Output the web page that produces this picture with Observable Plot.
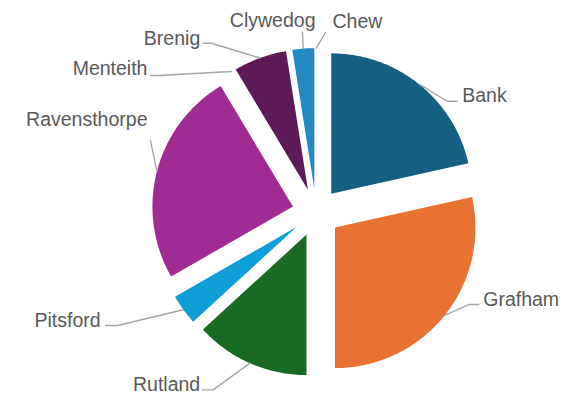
<!DOCTYPE html>
<html>
<head>
<meta charset="utf-8">
<script src="https://cdn.jsdelivr.net/npm/d3@7"></script>
<script src="https://cdn.jsdelivr.net/npm/@observablehq/plot@0.6"></script>
<style>
  html, body { margin: 0; padding: 0; background: #ffffff; }
  #chart svg { display: block; background: #ffffff; }
</style>
</head>
<body>
<div id="chart"></div>
<script>
// ---- data (clockwise from 12 o'clock) ----
const names  = ["Bank", "Grafham", "Rutland", "Pitsford", "Ravensthorpe", "Menteith", "Brenig", "Clywedog", "Chew"];
const shares = [21.5, 28.5, 13.2, 3.5, 24.7, 0, 6.1, 2.5, 0];
const colors = ["#156082", "#e97132", "#196b24", "#0f9ed5", "#a02b93", "#4ea72e", "#5e1a57", "#2389c2", "#7f7f7f"];

// ---- layout (label placement around the pie) ----
const labelAngle  = [51.7, 119.5, 212.75, 241.8, 293.5, 309.6, 326.3, 355.65, 2.96]; // degrees, clockwise from top
const labelRadius = [1.279, 1.329, 1.50, 1.701, 1.286, 1.531, 1.449, 1.2856, 1.2835]; // in pie radii
const labelElbow  = [-10, -10, 11, 12, 0, 8, 8, 0, 0];          // px horizontal leader segment
const labelAnchor = ["start", "start", "end", "end", "end", "end", "end", "end", "start"];
const labelDx     = [5, 4.5, -2, -5, -3, -3, -3, 13, 7];        // px
const labelDy     = [1, 1, 1, 1, -15, 0, 2, -5, -5];            // px (baseline)

const W = 585, H = 394;
const R = 140.5, cx = 315.7, cy = 212.1;   // pie radius and centre (px)
const explode = 0.171;                      // slice offset, in pie radii
const px = v => v / R;                      // px -> pie units

const arcs = d3.pie().sort(null).value(d => d)(shares);
const dir = a => [Math.sin(a), Math.cos(a)];

// slice polygons
const slices = arcs.map((a, i) => {
  const mid = (a.startAngle + a.endAngle) / 2;
  const [ox, oy] = dir(mid).map(v => v * explode);
  const pts = [{x: ox, y: oy}];
  const n = Math.max(2, Math.ceil((a.endAngle - a.startAngle) / (Math.PI / 180)));
  for (let k = 0; k <= n; k++) {
    const t = a.startAngle + (a.endAngle - a.startAngle) * k / n;
    const [sx, sy] = dir(t);
    pts.push({x: ox + sx, y: oy + sy});
  }
  return {name: names[i], color: colors[i], value: shares[i], pts};
});

// leader lines and label anchors
const leaders = [];
const labels = arcs.map((a, i) => {
  const mid = (a.startAngle + a.endAngle) / 2;
  const [mx, my] = dir(mid).map(v => v * (1 + explode));
  const la = labelAngle[i] * Math.PI / 180;
  const [ax, ay] = dir(la).map(v => v * labelRadius[i]);
  leaders.push({name: names[i], x: mx, y: my});
  if (labelElbow[i] !== 0) leaders.push({name: names[i], x: ax + px(labelElbow[i]), y: ay});
  leaders.push({name: names[i], x: ax, y: ay});
  return {name: names[i], x: ax + px(labelDx[i]), y: ay - px(labelDy[i]), anchor: labelAnchor[i]};
});

const chart = Plot.plot({
  width: W,
  height: H,
  margin: 0,
  x: {domain: [px(-cx), px(W - cx)], axis: null},
  y: {domain: [px(-(H - cy)), px(cy)], axis: null},
  style: {background: "#ffffff", overflow: "visible"},
  marks: [
    ...slices.filter(s => s.value > 0).map(s =>
      Plot.line(s.pts, {x: "x", y: "y", fill: s.color, stroke: "none", curve: "linear-closed"})
    ),
    Plot.line(leaders, {x: "x", y: "y", z: "name", stroke: "#a6a6a6", strokeWidth: 1.4}),
    ...["start", "end"].map(anchor =>
      Plot.text(labels.filter(d => d.anchor === anchor), {
        x: "x", y: "y", text: "name",
        textAnchor: anchor, lineAnchor: "bottom",
        fontSize: 19.5, fontFamily: "'Liberation Sans', Arial, sans-serif",
        fill: "#595959"
      })
    )
  ]
});

document.getElementById("chart").appendChild(chart);
</script>
</body>
</html>
